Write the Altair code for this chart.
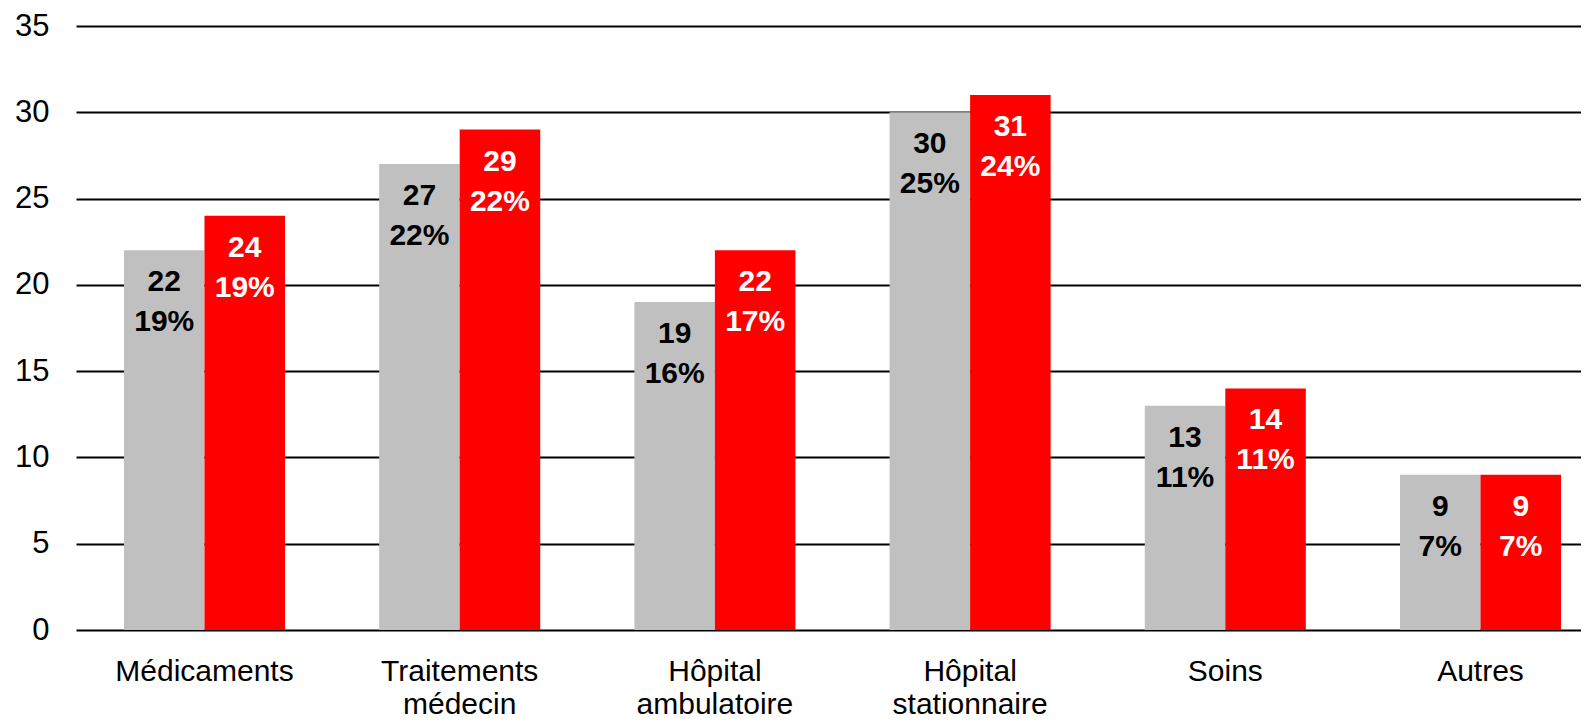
import altair as alt
import pandas as pd

categories = ["Médicaments", "Traitements\nmédecin", "Hôpital\nambulatoire",
              "Hôpital\nstationnaire", "Soins", "Autres"]
series_names = ["Série 1", "Série 2"]
values_1 = [22, 27, 19, 30, 13, 9]
values_2 = [24, 29, 22, 31, 14, 9]
pct_1 = ["19%", "22%", "16%", "25%", "11%", "7%"]
pct_2 = ["19%", "22%", "17%", "24%", "11%", "7%"]

rows = []
for c, v, p in zip(categories, values_1, pct_1):
    rows.append({"cat": c, "series": series_names[0], "value": v, "pct": p})
for c, v, p in zip(categories, values_2, pct_2):
    rows.append({"cat": c, "series": series_names[1], "value": v, "pct": p})
df = pd.DataFrame(rows)

FONT = "Liberation Sans"

x_enc = alt.X(
    "cat:N",
    sort=categories,
    scale=alt.Scale(range=[0, 1533], paddingInner=0.369, paddingOuter=0.188),
    axis=alt.Axis(
        title=None, labelAngle=0, domain=False, ticks=False,
        labelFont=FONT, labelFontSize=30, labelColor="black",
        labelPadding=26, labelLineHeight=33, labelLimit=0,
        labelExpr="split(datum.value, '\\n')",
    ),
)
xoff = alt.XOffset("series:N", sort=series_names, scale=alt.Scale(paddingInner=0, paddingOuter=0))
y_enc = alt.Y(
    "value:Q",
    scale=alt.Scale(domain=[0, 35], nice=False),
    axis=alt.Axis(
        title=None, values=[0, 5, 10, 15, 20, 25, 30, 35], domain=False, ticks=False,
        grid=True, gridColor="black", gridWidth=2, gridOpacity=1,
        labelFont=FONT, labelFontSize=31, labelColor="black", labelPadding=27,
    ),
)

base = alt.Chart(df)

bars = base.mark_bar(strokeWidth=0).encode(
    x=x_enc,
    xOffset=xoff,
    y=y_enc,
    color=alt.Color("series:N", sort=series_names,
                    scale=alt.Scale(domain=series_names, range=["#C0C0C0", "#FF0000"]),
                    legend=None),
)

text_color = alt.condition(alt.datum.series == series_names[1], alt.value("white"), alt.value("black"))

lab_val = base.mark_text(font=FONT, fontSize=30, fontWeight="bold", baseline="middle", dy=32).encode(
    x=alt.X("cat:N", sort=categories),
    xOffset=alt.XOffset("series:N", sort=series_names),
    y=alt.Y("value:Q"),
    text=alt.Text("value:Q"),
    color=text_color,
)
lab_pct = base.mark_text(font=FONT, fontSize=30, fontWeight="bold", baseline="middle", dy=72).encode(
    x=alt.X("cat:N", sort=categories),
    xOffset=alt.XOffset("series:N", sort=series_names),
    y=alt.Y("value:Q"),
    text=alt.Text("pct:N"),
    color=text_color,
)

chart = alt.layer(bars, lab_val, lab_pct).properties(
    width=1505, height=604,
    autosize=alt.AutoSizeParams(type="none"),
    padding={"left": 68, "top": 18, "right": 0, "bottom": 90},
    background="white",
).configure_view(stroke=None)

chart.save("out.html", embed_options={"renderer": "svg", "actions": False})
